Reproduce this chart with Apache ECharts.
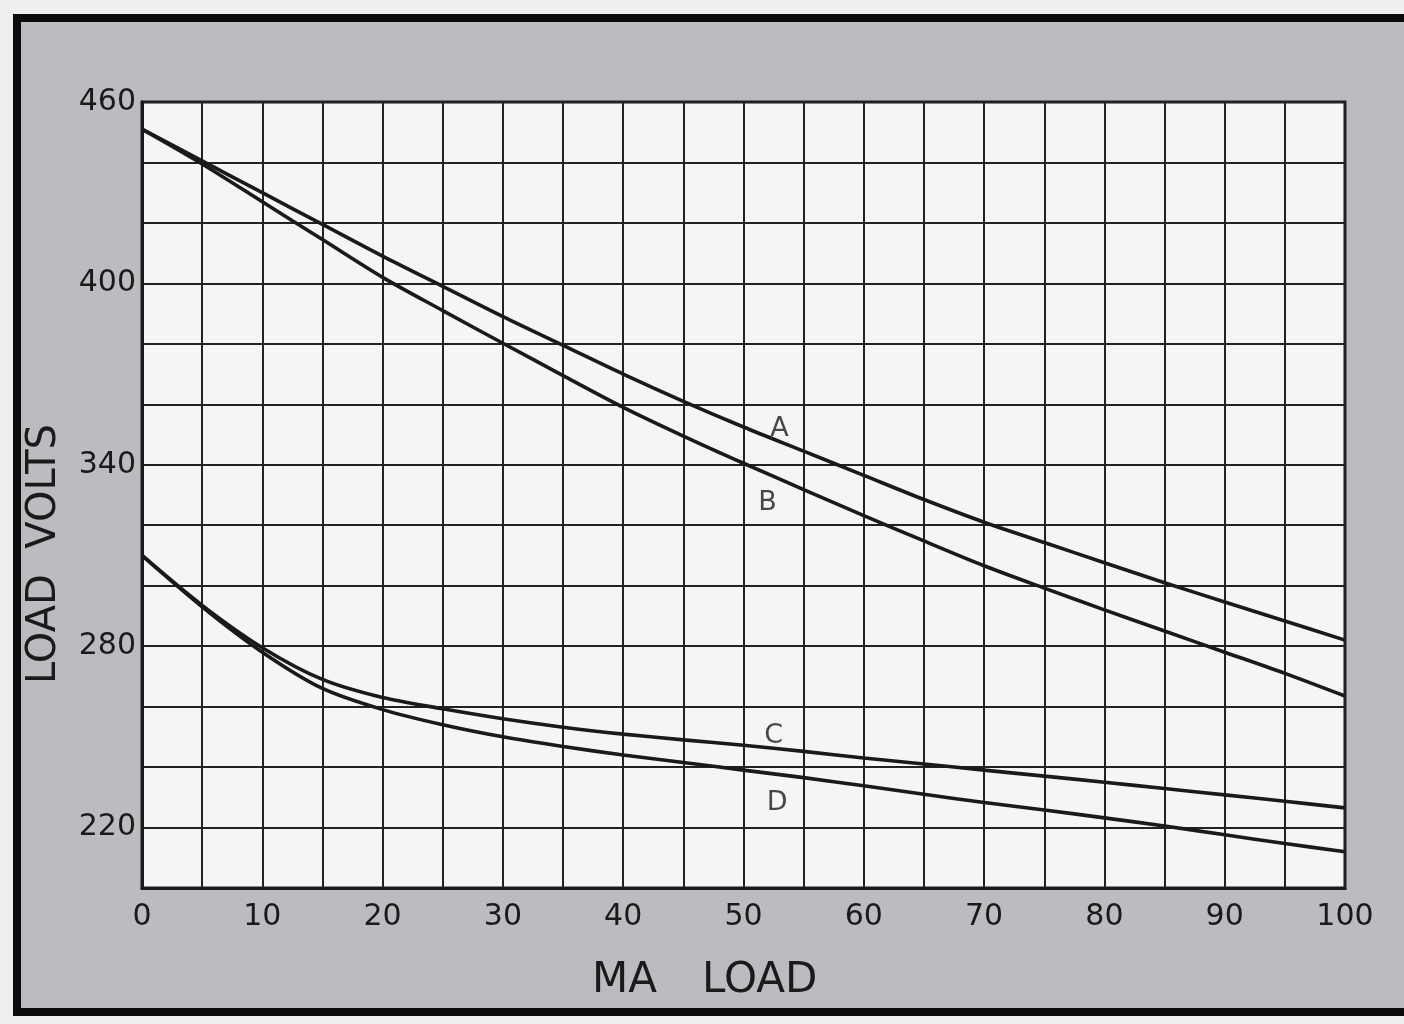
<!DOCTYPE html>
<html>
<head>
<meta charset="utf-8">
<script src="https://cdn.jsdelivr.net/npm/echarts@6/dist/echarts.min.js"></script>
<style>
  html, body { margin: 0; padding: 0; background: #ececec; }
  #chart { width: 1404px; height: 1024px; }
</style>
</head>
<body>
<div id="chart"></div>
<script>
// MA load (x) and load volts for curves A-D
const maLoad = [0, 5, 10, 15, 20, 25, 30, 35, 40, 45, 50, 55, 60, 65, 70, 75, 80, 85, 90, 95, 100];
const curveA = [451, 440.5, 430, 419.5, 409, 399, 389, 379.5, 370, 361, 352.5, 344.5, 336.5, 328.5, 321, 314.3, 307.6, 301, 294.6, 288.3, 282];
const curveB = [451, 439.5, 427, 414.5, 402, 391, 380.2, 369.5, 359, 349.5, 340.5, 331.8, 323.2, 314.8, 306.6, 299.2, 292, 285, 278, 271, 263.5];
const curveC = [310, 293.5, 279.5, 269, 263, 259.3, 256, 253.2, 250.9, 249, 247.2, 245.2, 243, 241, 239, 237, 235, 232.9, 230.8, 228.7, 226.5];
const curveD = [310, 293, 278, 266, 259, 254, 250, 246.8, 244, 241.5, 239, 236.5, 233.8, 231, 228.3, 225.8, 223.2, 220.5, 217.6, 214.7, 212];

// curve letters, placed in data coordinates
const labelNames = ['A', 'B', 'C', 'D'];
const labelMa = [53, 52, 52.5, 52.8];
const labelVolts = [352, 327.5, 250.4, 228];

const FONT = '"DejaVu Sans", sans-serif';
const INK = '#1a1a1a';

function pairs(ys) {
    return maLoad.map((x, i) => [x, ys[i]]);
}

function curve(name, ys) {
    return {
        name: name,
        type: 'line',
        data: pairs(ys),
        smooth: 0.3,
        symbol: 'none',
        lineStyle: { color: INK, width: 3.6 },
        z: 3
    };
}

const chart = echarts.init(document.getElementById('chart'));

const option = {
    backgroundColor: '#efefef',
    animation: false,
    graphic: [
        {
            type: 'rect',
            z: -100,
            shape: { x: 17, y: 18, width: 1420, height: 994 },
            style: { fill: '#bcbcc0', stroke: '#0c0c0c', lineWidth: 8 }
        },
        {
            type: 'text',
            left: 592,
            top: 960,
            style: { text: 'MA', font: '42px ' + FONT, fill: INK }
        },
        {
            type: 'text',
            left: 702,
            top: 960,
            style: { text: 'LOAD', font: '42px ' + FONT, fill: INK }
        },
        {
            type: 'text',
            x: 25,
            y: 684,
            rotation: Math.PI / 2,
            style: { text: 'LOAD  VOLTS', font: '40px ' + FONT, fill: INK }
        }
    ],
    grid: {
        left: 142,
        right: 59,
        top: 102,
        bottom: 136,
        show: true,
        backgroundColor: '#f5f5f5',
        borderColor: INK,
        borderWidth: 3
    },
    xAxis: {
        type: 'value',
        min: 0,
        max: 100,
        interval: 5,
        axisLine: { show: true, lineStyle: { color: INK, width: 3 } },
        axisTick: { show: false },
        splitLine: { show: true, lineStyle: { color: '#222', width: 2 } },
        axisLabel: {
            margin: 14,
            fontSize: 30,
            fontFamily: FONT,
            color: INK,
            formatter: v => (v % 10 === 0 ? String(v) : '')
        }
    },
    yAxis: {
        type: 'value',
        min: 200,
        max: 460,
        interval: 20,
        axisLine: { show: true, lineStyle: { color: INK, width: 3 } },
        axisTick: { show: false },
        splitLine: { show: true, lineStyle: { color: '#222', width: 2 } },
        axisLabel: {
            margin: 6,
            fontSize: 30,
            fontFamily: FONT,
            color: INK,
            formatter: v => ((v - 220) % 60 === 0 ? String(v) : '')
        }
    },
    series: [
        curve('A', curveA),
        curve('B', curveB),
        curve('C', curveC),
        curve('D', curveD),
        {
            name: 'letters',
            type: 'scatter',
            symbolSize: 1,
            itemStyle: { color: 'rgba(0,0,0,0)' },
            data: labelNames.map((n, i) => ({ name: n, value: [labelMa[i], labelVolts[i]] })),
            label: {
                show: true,
                position: 'inside',
                formatter: p => p.name,
                fontSize: 27,
                fontFamily: FONT,
                color: INK
            },
            z: 4
        }
    ]
};

chart.setOption(option);
</script>
</body>
</html>
